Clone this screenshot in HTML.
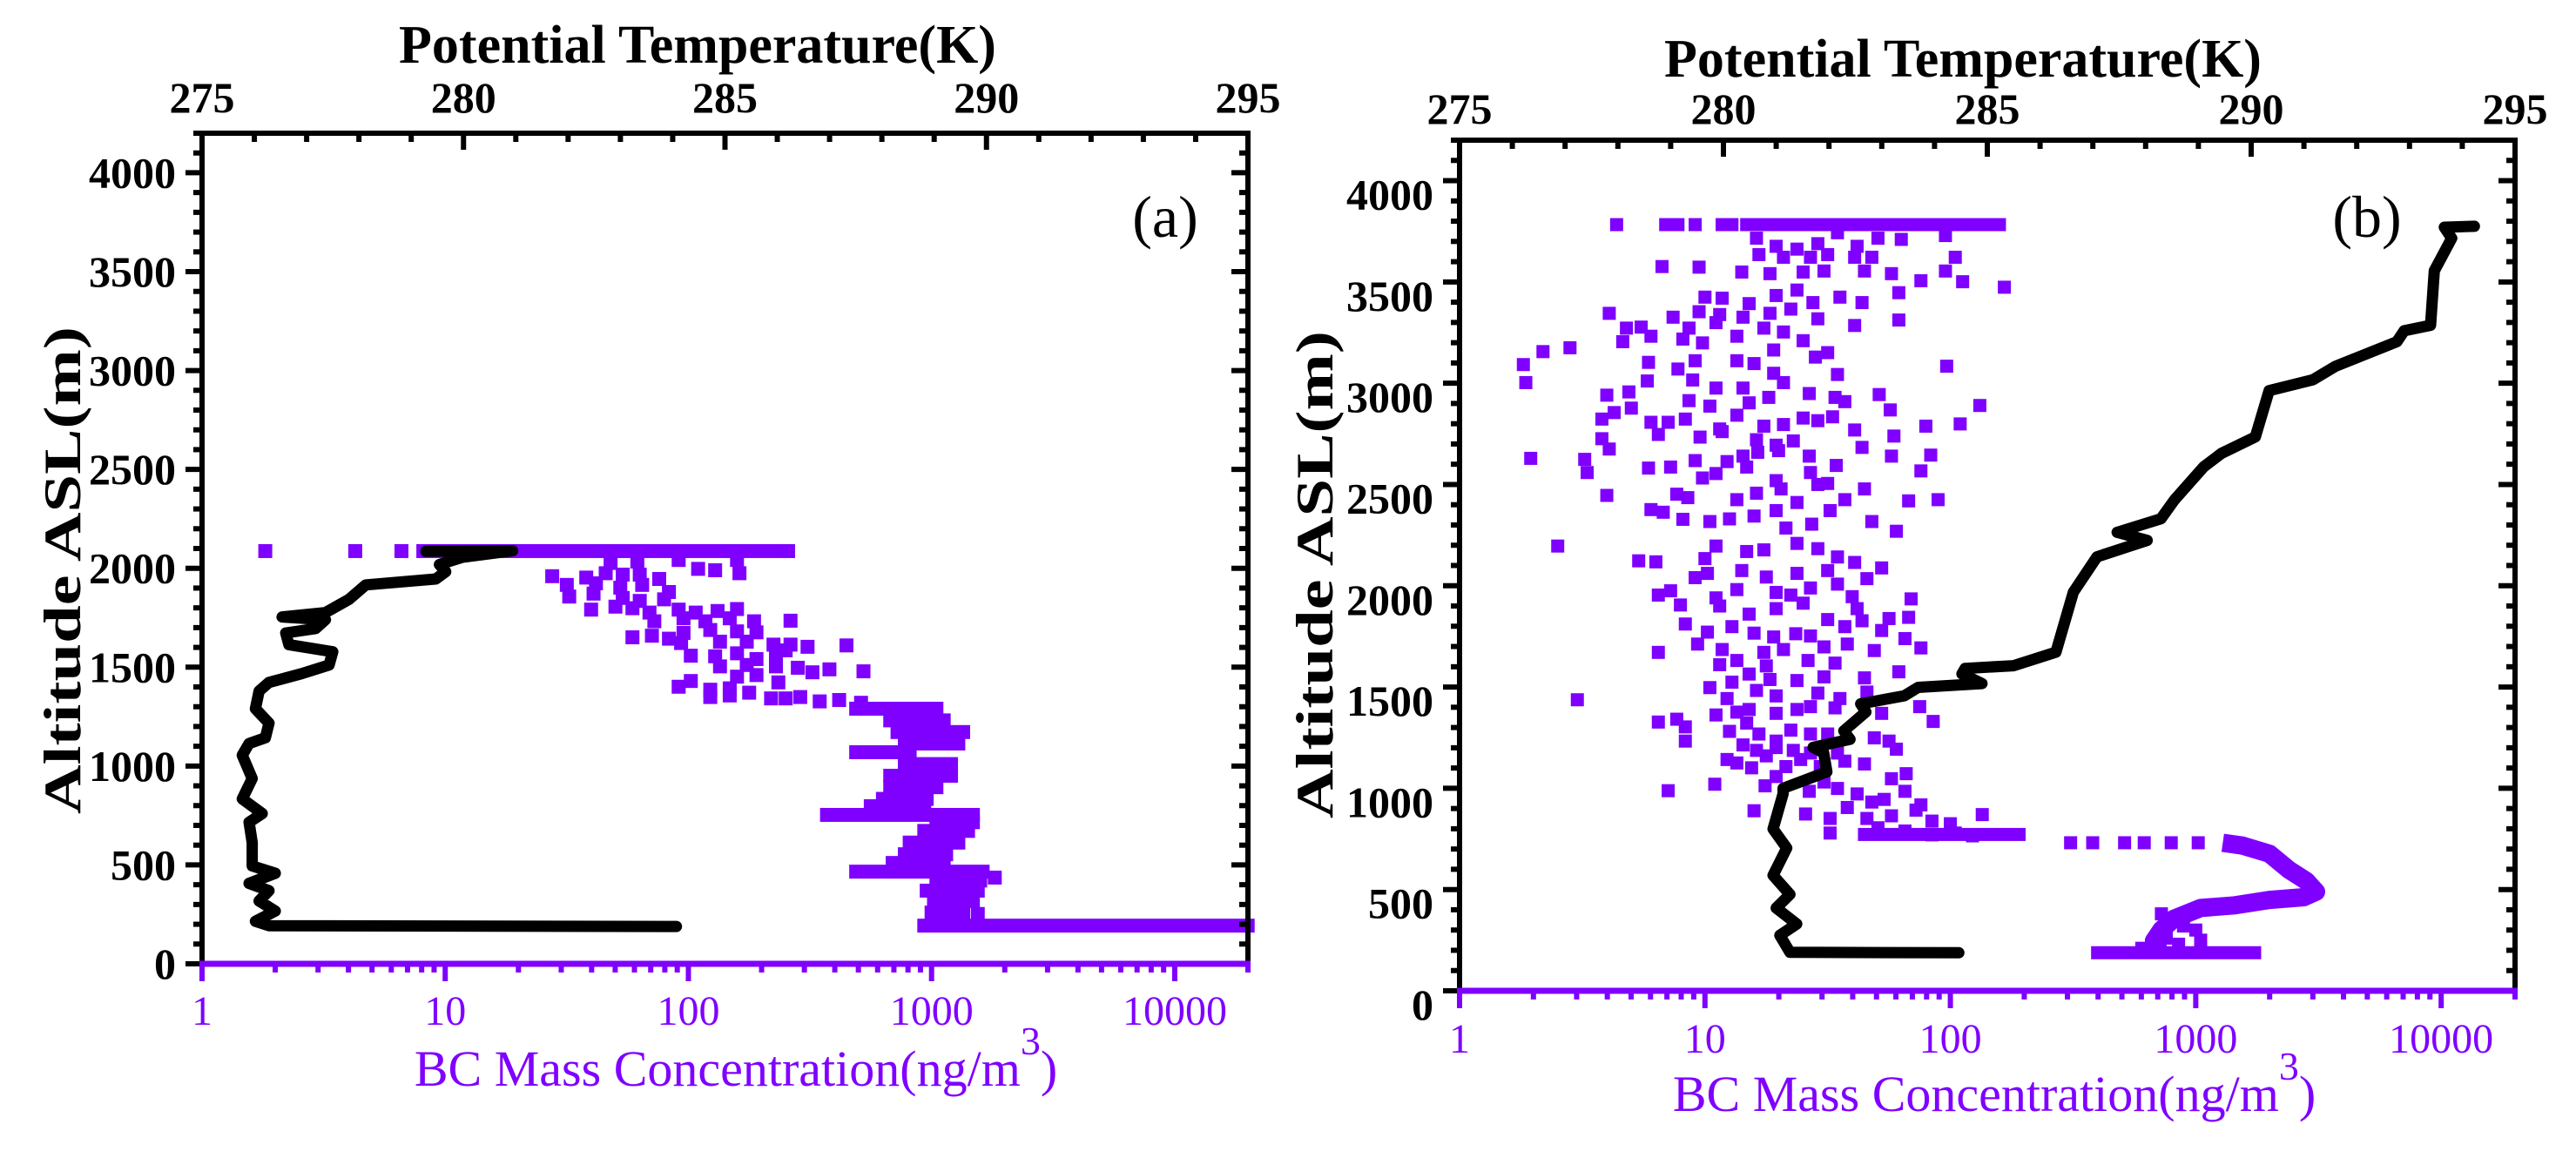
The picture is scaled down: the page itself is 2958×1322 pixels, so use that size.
<!DOCTYPE html>
<html><head><meta charset="utf-8"><title>BC and Potential Temperature Profiles</title>
<style>html,body{margin:0;padding:0;background:#fff;}svg{display:block;}text{font-family:"Liberation Serif","Times New Roman",serif;}</style>
</head><body>
<svg id="chart" xmlns="http://www.w3.org/2000/svg" width="2958" height="1322" viewBox="0 0 2958 1322">
<rect x="0" y="0" width="2958" height="1322" fill="#fff"/>
<g id="panelA"></g>
<g id="panelB"></g>
<text x="801" y="72" text-anchor="middle" font-size="62" font-weight="bold">Potential Temperature(K)</text>
<text x="2254" y="88" text-anchor="middle" font-size="62" font-weight="bold">Potential Temperature(K)</text>
<text transform="translate(92,655) rotate(-90)" text-anchor="middle" font-size="60" font-weight="bold" textLength="560" lengthAdjust="spacingAndGlyphs">Altitude ASL(m)</text>
<text transform="translate(1530,660) rotate(-90)" text-anchor="middle" font-size="60" font-weight="bold" textLength="560" lengthAdjust="spacingAndGlyphs">Altitude ASL(m)</text>
<text x="845" y="1247" text-anchor="middle" font-size="58" fill="#7f00ff">BC Mass Concentration(ng/m<tspan font-size="46" dy="-36">3</tspan><tspan dy="36">)</tspan></text>
<text x="2290" y="1276" text-anchor="middle" font-size="58" fill="#7f00ff">BC Mass Concentration(ng/m<tspan font-size="46" dy="-36">3</tspan><tspan dy="36">)</tspan></text>
<text x="1338" y="272" text-anchor="middle" font-size="68">(a)</text>
<text x="2718" y="272" text-anchor="middle" font-size="68">(b)</text>
</svg>
<script>
// ---------- shared ticks ----------
const tempTicks = [275, 280, 285, 290, 295];
const bcTicks = [1, 10, 100, 1000, 10000];
const bcTickLabels = ['1', '10', '100', '1000', '10000'];
const altTicks = [0, 500, 1000, 1500, 2000, 2500, 3000, 3500, 4000];

// ---------- panel (a) data ----------
const aTempAlt = [189,193,215,267,318,370,407,458,495,613,716,760,834,937,1055,1114,1143,1217,1290,1379,1423,1467,1511,1578,1614,1673,1695,1740,1754,1776,1843,1916,1946,1983,2019,2056,2089,2086];
const aTempK = [284.07,276.28,276.02,276.4,276.09,276.28,275.9,276.4,275.96,275.96,275.9,276.15,275.77,275.96,275.77,275.9,276.21,276.28,276.02,276.09,276.28,276.9,277.43,277.5,276.66,276.6,277.17,277.36,276.53,277.36,277.81,278.13,279.47,279.66,279.54,279.98,280.94,279.28];
const aRowAlt = [2087,1290,1231,1172,1114,1070,1010,951,893,834,797,753,716,672,613,554,510,466,421,370,318,259,193];
const aRowLogMin = [0.91,2.69,2.83,2.86,2.89,2.69,2.89,2.83,2.83,2.80,2.75,2.57,3.02,2.97,2.91,2.89,2.84,2.69,3.02,2.98,3.01,3.00,2.97];
const aRowLogMax = [2.36,3.02,3.05,3.13,3.11,2.91,3.08,3.08,3.02,2.98,2.97,3.17,3.17,3.15,3.11,3.06,3.05,3.21,3.20,3.19,3.17,3.13,4.30];
const aPtLog = [0.26,0.63,0.82,2.41,1.68,1.79,1.96,2.20,2.04,2.11,2.21,1.66,1.44,1.58,1.73,1.80,1.88,1.50,1.62,1.72,1.81,1.92,1.51,1.61,1.73,1.80,1.90,1.60,1.70,1.77,1.84,1.96,2.03,2.12,2.20,1.86,1.98,2.07,2.17,2.27,2.42,1.77,1.85,1.92,1.98,2.09,2.20,2.28,1.97,2.13,2.24,2.35,2.42,2.49,2.65,2.01,2.11,2.20,2.28,2.36,2.40,2.13,2.24,2.36,2.45,2.51,2.58,2.72,2.20,2.28,2.37,1.96,2.01,2.09,2.17,2.25,2.09,2.17,2.34,2.40,2.46,2.54,2.62,2.71,3.26,3.19];
const aPtAlt = [2087,2087,2087,2087,2027,2034,2042,2042,1997,1990,1975,1975,1960,1953,1968,1968,1946,1916,1924,1902,1916,1880,1857,1872,1850,1835,1843,1791,1806,1798,1776,1791,1776,1784,1794,1732,1747,1732,1747,1732,1735,1651,1659,1644,1673,1688,1681,1676,1622,1629,1629,1614,1614,1603,1610,1558,1555,1570,1541,1548,1585,1504,1511,1504,1497,1474,1489,1479,1452,1460,1423,1401,1430,1386,1393,1371,1349,1357,1342,1342,1349,1327,1334,1320,436,252];

// ---------- panel (b) data ----------
const bTempAlt = [188,190,274,330,409,476,570,705,799,973,1000,1081,1175,1202,1242,1283,1377,1417,1457,1498,1517,1565,1592,1605,1672,1968,2143,2224,2264,2331,2425,2587,2654,2735,2963,3017,3084,3205,3259,3286,3555,3716,3770,3775];
const bTempK = [284.46,281.26,281.07,281.39,281.0,281.26,280.94,281.2,280.94,281.13,281.13,281.96,281.9,281.7,282.4,282.28,282.7,282.6,283.43,283.69,284.9,284.52,284.58,285.5,286.3,286.63,287.08,288.03,287.46,288.29,288.55,289.1,289.44,290.08,290.34,291.17,291.6,292.76,292.9,293.4,293.47,293.8,293.66,294.23];
const bRowAlt = [3783, 772, 188];
const bRowLogMin = [1.17, 1.65, 2.60];
const bRowLogMax = [2.20, 2.28, 3.24];
const bCurveLog = [3.11,3.19,3.30,3.38,3.45,3.49,3.44,3.30,3.16,3.02,2.91,2.86,2.83,2.85];
const bCurveAlt = [731,717,677,597,543,489,462,449,422,409,355,301,247,200];
const bPtLog = [0.64,0.84,0.89,0.96,1.07,1.11,2.49,2.58,2.71,2.79,2.90,3.01,2.86,2.90,2.95,3.00,2.88,2.93,3.02,2.78,
1.21,1.29,1.375,1.46,1.54,1.62,1.705,1.80,1.98,1.22,1.32,1.43,1.50,1.61,1.68,2.02,0.825,0.976,1.15,1.265,1.40,1.485,1.65,1.76,1.88,1.98,2.05,2.22,1.00,1.07,1.18,1.29,1.375,1.44,1.55,1.64,1.79,0.61,0.87,0.976,1.06,1.155,1.265,1.35,1.46,1.61,1.79,
0.68,0.74,0.935,1.045,1.24,1.32,0.34,0.45,0.665,0.78,0.91,0.99,1.13,1.28,1.40,1.50,0.26,0.77,0.89,0.96,1.13,1.20,1.28,1.45,1.54,1.985,0.27,0.765,0.95,1.045,1.155,1.32,1.425,0.60,0.69,0.935,1.02,1.18,1.26,1.53,1.57,1.71,1.755,2.12,
0.58,0.63,0.70,0.78,0.85,0.92,1.06,1.13,1.24,1.32,1.40,1.46,1.52,1.61,1.90,2.04,0.58,0.81,0.98,1.07,1.21,1.29,1.36,1.77,0.29,0.51,0.52,0.61,0.77,0.86,0.96,1.09,1.155,1.215,1.30,1.425,1.64,1.76,1.92,1.88,0.99,1.045,1.17,1.29,1.43,1.535,0.60,0.885,0.93,1.13,1.21,1.31,1.375,1.46,1.50,1.65,1.57,1.83,1.95,
0.78,0.83,0.91,1.02,1.10,1.20,1.29,1.33,1.435,1.51,1.68,1.78,0.40,0.73,0.80,1.00,1.045,1.17,1.24,1.375,1.46,1.54,1.61,1.72,0.96,1.01,1.15,1.25,1.375,1.50,1.66,0.81,0.86,1.045,1.13,1.29,1.35,1.43,1.54,1.60,1.84,0.90,1.06,1.18,1.29,1.40,1.50,1.62,1.75,1.83,0.92,1.01,1.11,1.20,1.28,1.37,1.43,1.57,1.64,1.72,1.815,
0.81,0.97,1.07,1.24,1.32,1.485,1.58,1.69,1.88,1.06,1.13,1.25,1.42,1.53,1.11,1.18,1.265,1.375,1.485,1.65,1.79,0.48,1.02,1.09,1.21,1.29,1.46,1.55,1.66,0.81,0.885,0.92,1.045,1.13,1.18,1.29,1.375,1.43,1.53,1.72,1.875,1.93,
0.92,1.10,1.17,1.22,1.29,1.35,1.43,1.50,1.69,1.75,1.09,1.155,1.21,1.29,1.36,1.43,1.54,1.65,1.78,0.85,1.04,1.13,1.19,1.25,1.33,1.39,1.47,1.57,1.76,1.82,1.20,1.245,1.29,1.425,1.485,1.54,1.62,1.68,1.73,1.815,1.88,1.41,1.51,1.58,1.66,1.76,1.86,1.925,2.00,2.13,2.02,1.51,1.705,1.815,1.925,2.09];
const bPtAlt = [3783,3783,3783,3783,3783,3783,731,731,731,731,731,731,380,350,320,300,260,230,250,210,
3716,3676,3662,3689,3743,3676,3716,3710,3729,3635,3622,3622,3635,3622,3622,3622,3576,3573,3549,3541,3549,3554,3554,3541,3506,3554,3501,3474,3425,3420,3393,3433,3460,3398,3425,3398,3447,3345,3326,3353,3339,3326,3345,3366,3318,3285,3312,
3272,3277,3272,3299,3272,3253,3156,3175,3205,3232,3218,3199,3232,3164,3210,3151,3092,3103,3070,3111,3111,3097,3049,3129,3043,3084,3003,3011,3016,2976,2976,3003,2949,2941,2957,2914,2887,2903,2930,2930,2909,2944,2868,2890,
2823,2855,2877,2807,2807,2823,2774,2842,2788,2796,2828,2815,2834,2769,2788,2799,2726,2747,2734,2761,2721,2694,2715,2739,2629,2624,2559,2675,2581,2586,2618,2613,2640,2659,2667,2640,2683,2640,2645,2567,2532,2554,2586,2519,2559,2594,2446,2452,2435,2425,2457,2478,2411,2500,2505,2478,2425,2419,2425,
2376,2363,2328,2317,2330,2344,2371,2285,2304,2371,2317,2269,2196,2123,2118,2134,2196,2169,2177,2209,2183,2142,2115,2088,2040,2061,2075,2043,2061,2075,2035,1954,1975,1940,1981,1967,1954,1989,2008,1946,1935,1905,1900,1860,1887,1914,1833,1887,1838,1844,1811,1771,1798,1766,1747,1763,1752,1798,1827,1779,1739,
1671,1712,1685,1671,1685,1698,1712,1680,1693,1610,1631,1604,1631,1618,1524,1564,1537,1532,1550,1545,1575,1437,1497,1443,1483,1456,1470,1443,1475,1327,1341,1303,1362,1376,1389,1370,1389,1403,1397,1370,1403,1330,
1233,1281,1322,1268,1233,1287,1268,1268,1249,1233,1142,1214,1187,1201,1187,1174,1174,1120,1193,988,1020,1125,1101,1160,1107,1142,1107,1134,1047,1072,889,1012,1058,985,1031,999,972,932,945,985,918,873,851,905,851,864,892,838,825,870,779,779,805,789,770,765];

const PURPLE = '#7f00ff';
const NS = 'http://www.w3.org/2000/svg';
function mk(tag, attrs, parent) {
  const el = document.createElementNS(NS, tag);
  for (const k in attrs) el.setAttribute(k, attrs[k]);
  parent.appendChild(el);
  return el;
}

function drawPanel(g, P, d) {
  const LMAX = Math.log10(20000);
  const xT = t => P.L + (t - 275) / 20 * (P.R - P.L);
  const xB = v => P.L + Math.log10(v) / LMAX * (P.R - P.L);
  const yA = a => P.B - a / 4200 * (P.B - P.T);
  const ms = P.ms;

  for (let i = 0; i < d.rowAlt.length; i++) {
    const x1 = xB(Math.pow(10, d.rowMin[i])), x2 = xB(Math.pow(10, d.rowMax[i]));
    const r = mk('rect', {x: x1 - ms / 2, y: yA(d.rowAlt[i]) - ms / 2, width: x2 - x1 + ms, height: ms, fill: PURPLE}, g);
    
    
  }
  if (d.curveAlt) {
    const pts = d.curveAlt.map((a, i) => xB(Math.pow(10, d.curveLog[i])).toFixed(1) + ',' + yA(a).toFixed(1)).join(' ');
    const c = mk('polyline', {points: pts, fill: 'none', stroke: PURPLE, 'stroke-width': ms + 6, 'stroke-linejoin': 'round'}, g);
    
    
  }
  for (let i = 0; i < d.ptAlt.length; i++) {
    const p = mk('rect', {x: xB(Math.pow(10, d.ptLog[i])) - ms / 2, y: yA(d.ptAlt[i]) - ms / 2, width: ms, height: ms, fill: PURPLE}, g);
    
    
  }
  const tp = d.tAlt.map((a, i) => xT(d.tK[i]).toFixed(1) + ',' + yA(a).toFixed(1)).join(' ');
  const line = mk('polyline', {points: tp, fill: 'none', stroke: '#000', 'stroke-width': 13, 'stroke-linejoin': 'round', 'stroke-linecap': 'round'}, g);
  
  

  const ax = mk('g', {}, g);
  
  
  for (let a = 0; a <= 4200; a += 100) {
    const major = a % 500 === 0;
    const len = major ? 19 : 10;
    const y = yA(a);
    const t1 = mk('line', {x1: P.L - len, y1: y, x2: P.L, y2: y, stroke: '#000', 'stroke-width': 6}, ax);
    
    
    const t2 = mk('line', {x1: P.R - len, y1: y, x2: P.R, y2: y, stroke: '#000', 'stroke-width': 6}, ax);
    
    
  }
  altTicks.forEach(a => {
    const t = mk('text', {x: P.L - 30, y: yA(a) + P.leftDy, 'text-anchor': 'end', 'font-size': 50, 'font-weight': 'bold'}, ax);
    t.textContent = String(a);
    
    
  });
  for (let k = 275; k <= 295; k++) {
    const major = k % 5 === 0;
    const x = xT(k);
    const t = mk('line', {x1: x, y1: P.T, x2: x, y2: P.T + (major ? 19 : 10), stroke: '#000', 'stroke-width': 6}, ax);
    
    
  }
  tempTicks.forEach(k => {
    const t = mk('text', {x: xT(k), y: P.topBase, 'text-anchor': 'middle', 'font-size': 50, 'font-weight': 'bold'}, ax);
    t.textContent = String(k);
    
    
  });
  const fl = mk('line', {x1: P.L, y1: P.T - 3, x2: P.L, y2: P.B, stroke: '#000', 'stroke-width': 6}, ax);
  
  
  const fr = mk('line', {x1: P.R, y1: P.T - 3, x2: P.R, y2: P.B, stroke: '#000', 'stroke-width': 6}, ax);
  
  
  const ft = mk('line', {x1: P.L - 3, y1: P.T, x2: P.R + 3, y2: P.T, stroke: '#000', 'stroke-width': 6}, ax);
  
  
  for (let dec = 0; dec <= 4; dec++) {
    for (let m = 1; m <= 9; m++) {
      const v = m * Math.pow(10, dec);
      if (v > 20000) continue;
      const x = xB(v);
      const t = mk('line', {x1: x, y1: P.B, x2: x, y2: P.B + (m === 1 ? 20 : 10), stroke: PURPLE, 'stroke-width': 6}, ax);
      
      
    }
  }
  const fb = mk('line', {x1: P.L - 3, y1: P.B, x2: P.R + 3, y2: P.B, stroke: PURPLE, 'stroke-width': 7}, ax);
  
  
  const z = mk('line', {x1: P.L - 19, y1: P.B, x2: P.L - 3, y2: P.B, stroke: '#000', 'stroke-width': 6}, ax);
  
  
  bcTicks.forEach((v, i) => {
    const t = mk('text', {x: xB(v), y: P.botBase, 'text-anchor': 'middle', 'font-size': 48, fill: PURPLE}, ax);
    t.textContent = bcTickLabels[i];
    
    
  });
}

drawPanel(document.getElementById('panelA'),
  {L: 232, R: 1433, T: 153, B: 1107, ms: 16, leftDy: 17, topBase: 129, botBase: 1177},
  {tAlt: aTempAlt, tK: aTempK, rowAlt: aRowAlt, rowMin: aRowLogMin, rowMax: aRowLogMax, ptAlt: aPtAlt, ptLog: aPtLog});
drawPanel(document.getElementById('panelB'),
  {L: 1676, R: 2888, T: 161, B: 1138, ms: 15, leftDy: 33, topBase: 142, botBase: 1209},
  {tAlt: bTempAlt, tK: bTempK, rowAlt: bRowAlt, rowMin: bRowLogMin, rowMax: bRowLogMax, ptAlt: bPtAlt, ptLog: bPtLog, curveAlt: bCurveAlt, curveLog: bCurveLog});
</script>
</body></html>
